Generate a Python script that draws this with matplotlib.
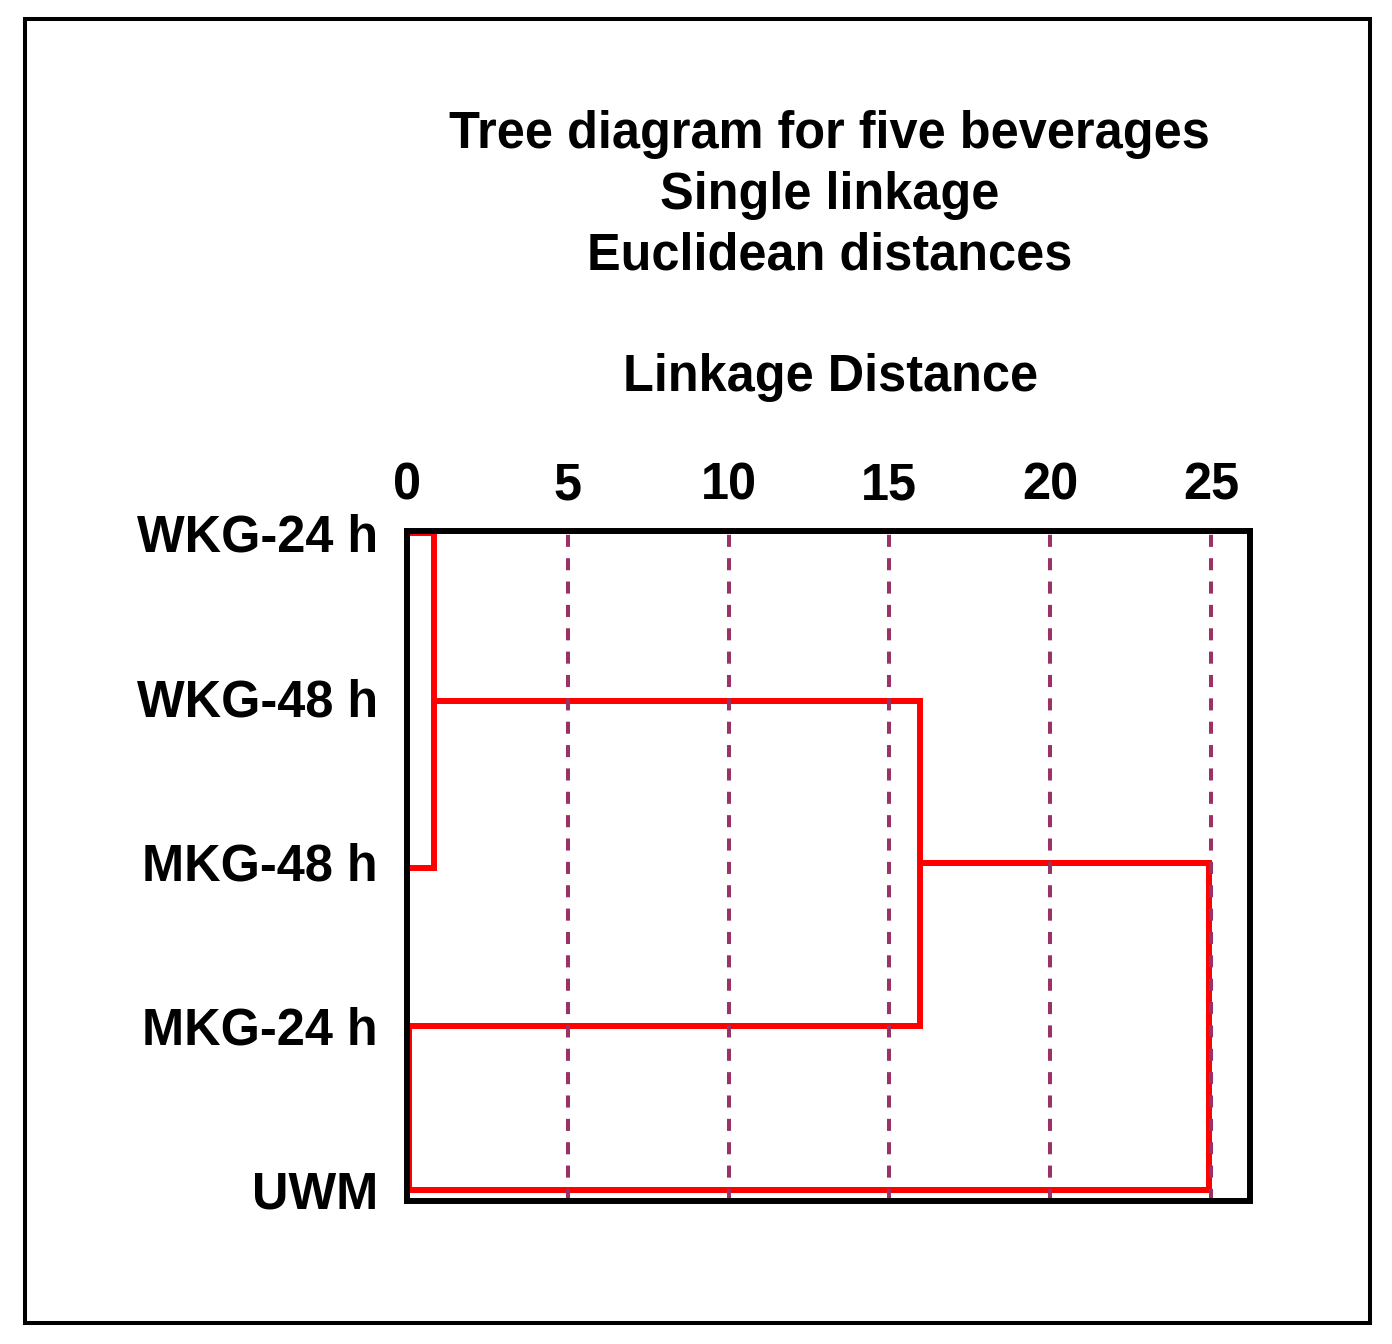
import matplotlib
matplotlib.use("Agg")
import matplotlib.pyplot as plt
from matplotlib.patches import Rectangle

plt.rcParams["font.family"] = ["Liberation Sans", "DejaVu Sans"]
plt.rcParams["font.weight"] = "bold"

# leaves, top to bottom, with their row positions
leaf_labels = ["WKG-24 h", "WKG-48 h", "MKG-48 h", "MKG-24 h", "UWM"]
leaf_rows = [1.0, 2.0, 3.04, 4.0, 5.0]
# linkage distances for the three visible joins
link_dist = [0.85, 15.95, 24.95]
leaf_start = 0.07
x_ticks = [0, 5, 10, 15, 20, 25]

title_lines = ["Tree diagram for five beverages", "Single linkage", "Euclidean distances"]
x_title = "Linkage Distance"

W, H = 1392, 1344
fs = 36.4
fig = plt.figure(figsize=(W / 100, H / 100), dpi=100)
ax = fig.add_axes([407 / W, 1 - 1200.5 / H, 842.5 / W, 669.5 / H])

red = "#ff0000"
lw = 4.3
y1, y2, y3, y4, y5 = leaf_rows
d1, d2, d3 = link_dist
c1 = (y1 + y3) / 2
c2 = (c1 + y4) / 2
kw = dict(color=red, lw=lw, solid_joinstyle="miter", solid_capstyle="butt", zorder=2)
ax.plot([leaf_start, d1, d1, leaf_start], [y1, y1, y3, y3], **kw)
ax.plot([d1, d2, d2, leaf_start], [c1, c1, y4, y4], **kw)
ax.plot([d2, d3, d3, leaf_start, leaf_start], [c2, c2, y5, y5, y4], **kw)

ax.set_xlim(0, 26.2)
ax.set_ylim(5.064, 0.988)

ax.xaxis.tick_top()
ax.set_xticks(x_ticks)
ax.set_xticklabels([str(t) for t in x_ticks])
ax.set_yticks(range(1, len(leaf_labels) + 1))
ax.set_yticklabels(leaf_labels)
ax.tick_params(axis="x", length=0, pad=15, labelsize=fs)
ax.tick_params(axis="y", length=0, pad=21, labelsize=fs)

for xv in x_ticks[1:]:
    ax.axvline(xv, color="#993366", lw=2.9, ls=(0, (3.0, 2.8)), zorder=3)

for s in ax.spines.values():
    s.set_linewidth(4.3)
    s.set_color("black")
    s.set_zorder(4)

cx = 829.5 / W
for i, line in enumerate(title_lines):
    fig.text(cx, 1 - (148 + 61 * i) / H, line, ha="center", va="baseline",
             fontsize=fs, fontweight="bold")
fig.text(831 / W, 1 - 391 / H, x_title, ha="center", va="baseline",
         fontsize=fs, fontweight="bold")

fig.patches.append(Rectangle((25 / W, 1 - 1322.5 / H), 1344.5 / W, 1303.5 / H,
                             transform=fig.transFigure, fill=False,
                             edgecolor="black", lw=2.9))

fig.savefig("out.png", dpi=100)
